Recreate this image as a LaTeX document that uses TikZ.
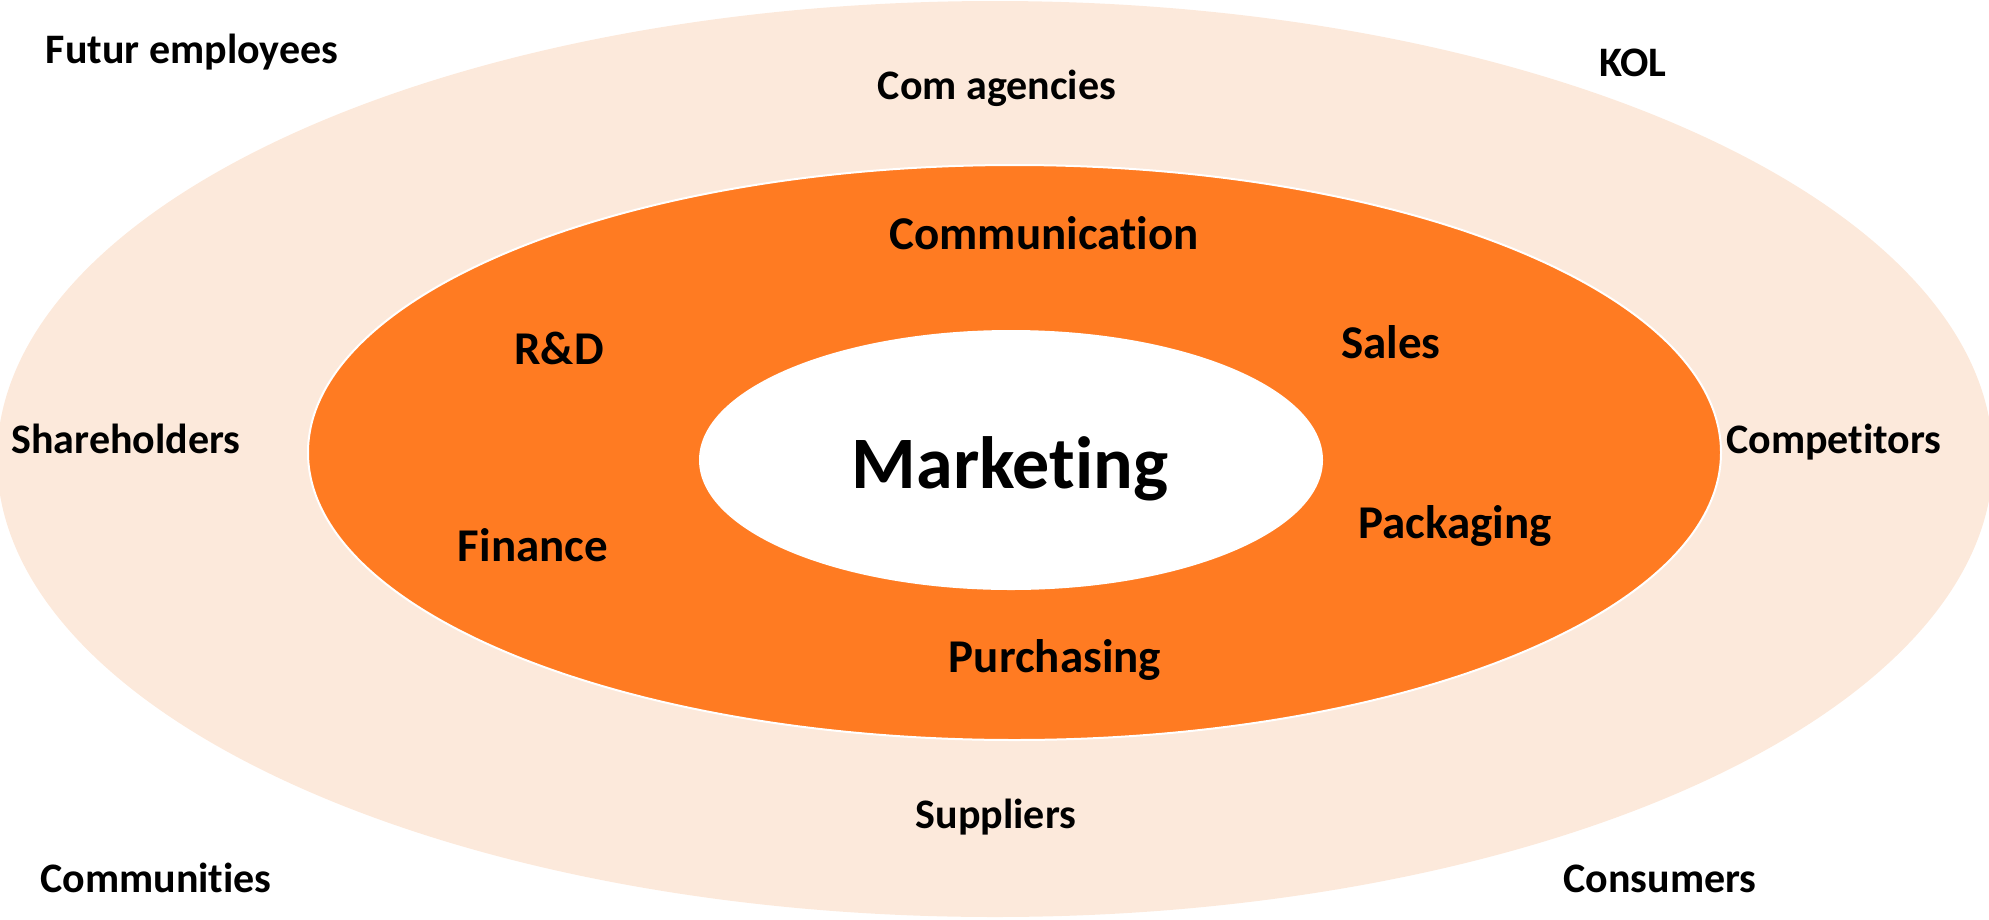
\documentclass[tikz,border=0pt]{standalone}
\usepackage{fontspec}
\setmainfont{Carlito}[Ligatures={NoCommon,NoRare,NoContextual}]
\usetikzlibrary{shapes.geometric}
\definecolor{peach}{HTML}{FCE9DB}
\definecolor{orng}{HTML}{FF7B22}
\tikzset{
  ring/.style={ellipse, inner sep=0pt, outer sep=0pt},
  outerlbl/.style={anchor=base, inner sep=0pt, font=\bfseries\fontsize{42}{50}\selectfont},
  innerlbl/.style={anchor=base, inner sep=0pt, font=\bfseries\fontsize{47}{56}\selectfont},
  corelbl/.style={anchor=base, inner sep=0pt, font=\bfseries\fontsize{74}{88}\selectfont}
}
\begin{document}
\begin{tikzpicture}[x=1pt,y=-1pt]
\useasboundingbox (0,0) rectangle (1989,919);
\node[ring, fill=peach, minimum width=1996pt, minimum height=916pt] (outer) at (995,459) {};
\node[ring, fill=orng, draw=white, line width=2pt, minimum width=1413pt, minimum height=575pt] (middle) at (1014.5,452.5) {};
\node[ring, fill=white, minimum width=624pt, minimum height=260pt] (core) at (1011,460) {};
% outer labels
\node[outerlbl] (futur) at (192,63) {Futur employees};
\node[outerlbl] (comag) at (997,99) {Com agencies};
\node[outerlbl] (kol) at (1633,76) {KOL};
\node[outerlbl] (share) at (126,453) {Shareholders};
\node[outerlbl] (compet) at (1834,453) {Competitors};
\node[outerlbl] (suppl) at (996,828) {Suppliers};
\node[outerlbl] (commun) at (156,892) {Communities};
\node[outerlbl] (consum) at (1660,892) {Consumers};
% inner labels
\node[innerlbl] (comm) at (1044,249) {Communication};
\node[innerlbl] (rd) at (559,364) {R\&D};
\node[innerlbl] (sales) at (1391,358) {Sales};
\node[innerlbl] (pack) at (1455,538) {Packaging};
\node[innerlbl] (fin) at (533,561) {Finance};
\node[innerlbl] (purch) at (1055,672) {Purchasing};
% core
\node[corelbl] (mkt) at (1010,488) {Marketing};
\end{tikzpicture}
\end{document}
